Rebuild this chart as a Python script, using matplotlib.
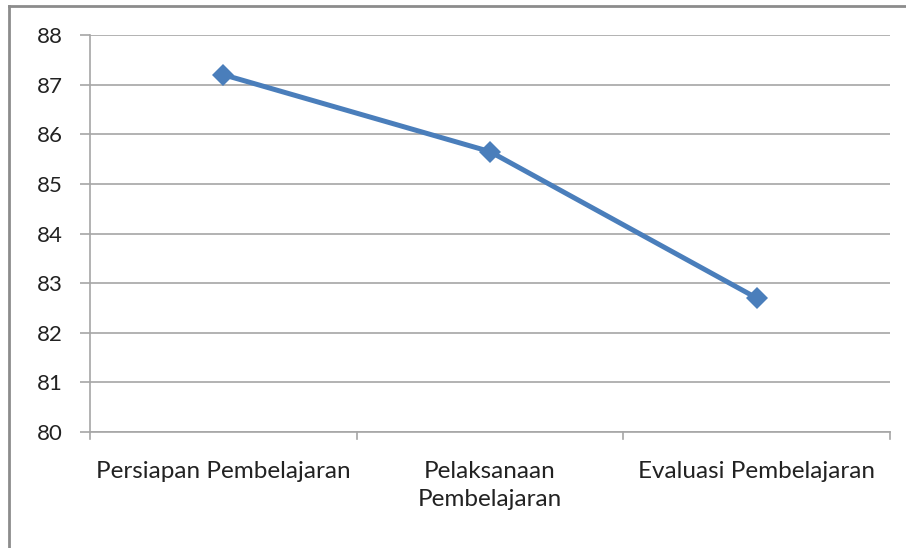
import matplotlib
matplotlib.use("Agg")
import matplotlib.pyplot as plt
from matplotlib.lines import Line2D


categories = [
    "Persiapan Pembelajaran",
    "Pelaksanaan\nPembelajaran",
    "Evaluasi Pembelajaran",
]
values = [87.2, 85.65, 82.7]
y_ticks = [80, 81, 82, 83, 84, 85, 86, 87, 88]

line_colour = "#4a7ebb"
grid_colour = "#a6a6a6"

plt.rcParams["font.family"] = ["Lato", "DejaVu Sans"]

figure = plt.figure(figsize=(9.06, 5.48), dpi=100)
axes = figure.add_axes([90 / 906, 1 - 432 / 548, 800 / 906, 397 / 548])

positions = list(range(len(categories)))
axes.plot(positions, values, color=line_colour, linewidth=3.6,
    marker="D", markersize=11, markeredgewidth=0, zorder=3)

axes.set_xlim(-0.5, len(categories) - 0.5)
axes.set_ylim(y_ticks[0], y_ticks[-1])
axes.set_yticks(y_ticks)
axes.set_yticklabels([str(t) for t in y_ticks], fontsize=16, color="#222222")
axes.yaxis.grid(True, color=grid_colour, linewidth=1.2)
axes.set_axisbelow(True)

# category labels between the boundary ticks
axes.set_xticks(positions)
axes.set_xticklabels(categories, fontsize=17.5, color="#222222",
    linespacing=1.4)
axes.tick_params(axis="x", length=0, pad=21)
for boundary in [p - 0.5 for p in positions] + [positions[-1] + 0.5]:
    axes.plot([boundary, boundary], [80, 79.85], color=grid_colour,
        linewidth=1.2, clip_on=False)
axes.tick_params(axis="y", length=7.5, color=grid_colour, width=1.2, pad=12)

for side in ["top", "right"]:
    axes.spines[side].set_visible(False)
for side in ["left", "bottom"]:
    axes.spines[side].set_color(grid_colour)
    axes.spines[side].set_linewidth(1.2)

# chart area border (left and top only, the rest is cut off)
figure.add_artist(Line2D([8.5 / 906, 8.5 / 906], [0, 1 - 5.5 / 548],
    color="#8c8c8c", linewidth=2))
figure.add_artist(Line2D([8.5 / 906, 1], [1 - 5.5 / 548, 1 - 5.5 / 548],
    color="#8c8c8c", linewidth=2))

plt.savefig("out.png", dpi=100)
plt.close()
